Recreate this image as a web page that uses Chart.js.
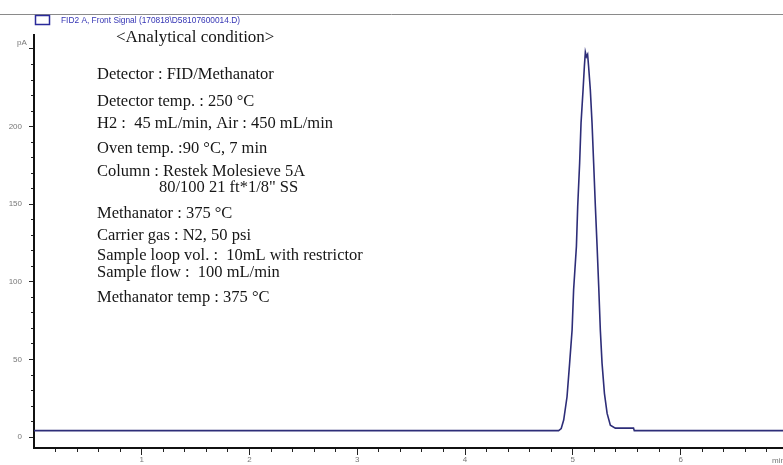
<!DOCTYPE html>
<html><head><meta charset="utf-8">
<script src="https://cdn.jsdelivr.net/npm/chart.js@4/dist/chart.umd.min.js"></script>
<style>html,body{margin:0;padding:0;background:#fff;overflow:hidden}canvas{display:block}</style>
</head><body>
<canvas id="c" width="783" height="465"></canvas>
<script>
// ---- data ----
const timesMin = [0, 4.868, 4.892, 4.915, 4.946, 4.970, 4.993, 5.007, 5.033, 5.045, 5.063, 5.076, 5.095, 5.107, 5.116, 5.126, 5.137, 5.146, 5.162, 5.178, 5.193, 5.209, 5.225, 5.240, 5.255, 5.271, 5.293, 5.318, 5.348, 5.394, 5.563, 5.570, 6.95];
const signalPA = [4.2, 4.2, 5.5, 11, 26, 47.5, 69, 94.8, 122.8, 148.6, 176.6, 202.4, 223.9, 238.9, 248, 245, 246.5, 238.9, 223.9, 202.4, 176.6, 148.6, 122.8, 97, 69, 47.5, 28.2, 15.3, 7.7, 5.8, 5.8, 4.2, 4.2];

const xMajorTicks = [1, 2, 3, 4, 5, 6];
const xTickLabels = ['1', '2', '3', '4', '5', '6'];
const xMinorTicks = [0.2, 0.4, 0.6, 0.8, 1.2, 1.4, 1.6, 1.8, 2.2, 2.4, 2.6, 2.8, 3.2, 3.4, 3.6, 3.8, 4.2, 4.4, 4.6, 4.8, 5.2, 5.4, 5.6, 5.8, 6.2, 6.4, 6.6, 6.8];
const yMajorTicks = [0, 50, 100, 150, 200, 250];
const yTickLabels = ['0', '50', '100', '150', '200', ''];
const yMinorTicks = [10, 20, 30, 40, 60, 70, 80, 90, 110, 120, 130, 140, 160, 170, 180, 190, 210, 220, 230, 240];

const seriesLabel = 'FID2 A, Front Signal (170818\\D58107600014.D)';
const yUnit = 'pA';
const xUnit = 'min';
const noteTitle = '<Analytical condition>';
const noteLines = [
  'Detector : FID/Methanator',
  'Detector temp. : 250 \u00B0C',
  'H2 :  45 mL/min, Air : 450 mL/min',
  'Oven temp. :90 \u00B0C, 7 min',
  'Column : Restek Molesieve 5A',
  '80/100 21 ft*1/8" SS',
  'Methanator : 375 \u00B0C',
  'Carrier gas : N2, 50 psi',
  'Sample loop vol. :  10mL with restrictor',
  'Sample flow :  100 mL/min',
  'Methanator temp : 375 \u00B0C'
];

const X_MIN = 0, X_MAX = 6.95, Y_MIN = -7, Y_MAX = 259;
const LINE_COLOR = '#2d2d78';
const TICK_FONT = {family: "'Liberation Sans Narrow', 'Liberation Sans', Arial, sans-serif", size: 8};

const pts = timesMin.map((t, i) => ({x: t, y: signalPA[i]}));

const notesPlugin = {
  id: 'notes',
  afterDraw(chart) {
    const ctx = chart.ctx;
    ctx.save();
    // top rule
    ctx.strokeStyle = '#8a8a8a';
    ctx.lineWidth = 1;
    ctx.beginPath(); ctx.moveTo(0, 14.5); ctx.lineTo(783, 14.5); ctx.stroke();
    // legend
    ctx.strokeStyle = '#2a2a9a';
    ctx.lineWidth = 1.5;
    ctx.strokeRect(35.5, 15.5, 14, 9);
    ctx.fillStyle = '#3434b4';
    ctx.font = "8.5px 'Liberation Sans', Arial, sans-serif";
    ctx.textBaseline = 'middle';
    ctx.textAlign = 'left';
    ctx.fillText(seriesLabel, 61, 20.5, 179);
    // units
    ctx.fillStyle = '#777';
    ctx.font = "8px 'Liberation Sans Narrow', 'Liberation Sans', sans-serif";
    ctx.textAlign = 'center';
    ctx.fillText(yUnit, 22, 43);
    ctx.textAlign = 'left';
    ctx.fillText(xUnit, 772, 461);
    // analytical conditions
    ctx.fillStyle = '#161616';
    ctx.font = "17px 'Liberation Serif', 'Times New Roman', serif";
    ctx.textAlign = 'left';
    ctx.fillText(noteTitle, 116, 38);
    ctx.font = "16.5px 'Liberation Serif', 'Times New Roman', serif";
    const ys = [75, 102, 124, 149, 172, 188, 214, 236, 256, 273, 298];
    noteLines.forEach((s, i) => {
      ctx.fillText(s, i === 5 ? 159 : 97, ys[i]);
    });
    ctx.restore();
  }
};

new Chart(document.getElementById('c'), {
  type: 'line',
  data: {
    datasets: [{
      label: seriesLabel,
      data: pts,
      borderColor: LINE_COLOR,
      backgroundColor: '#fff',
      borderWidth: 1.6,
      pointRadius: 0,
      fill: false,
      tension: 0,
      xAxisID: 'x',
      yAxisID: 'y'
    }]
  },
  options: {
    responsive: false,
    animation: false,
    devicePixelRatio: 1,
    layout: {padding: {top: 35, left: 0, right: 0, bottom: 0}},
    plugins: {legend: {display: false}, tooltip: {enabled: false}, title: {display: false}},
    scales: {
      x: {
        type: 'linear', position: 'bottom', min: X_MIN, max: X_MAX,
        afterBuildTicks: s => { s.ticks = xMajorTicks.map(v => ({value: v})); },
        afterFit: s => { s.height = 17; },
        ticks: {
          autoSkip: false, maxRotation: 0, padding: 0, color: '#777', font: TICK_FONT,
          callback: (v) => { const i = xMajorTicks.indexOf(v); return i >= 0 ? xTickLabels[i] : ''; }
        },
        grid: {drawOnChartArea: false, tickLength: 7, color: '#222', tickWidth: 1},
        border: {display: true, color: '#111', width: 2}
      },
      x2: {
        type: 'linear', position: {y: Y_MIN}, min: X_MIN, max: X_MAX,
        afterBuildTicks: s => { s.ticks = xMinorTicks.map(v => ({value: v})); },
        ticks: {display: false},
        grid: {drawOnChartArea: false, tickLength: 4, color: '#222', tickWidth: 1},
        border: {display: false}
      },
      y: {
        type: 'linear', position: 'left', min: Y_MIN, max: Y_MAX,
        afterBuildTicks: s => { s.ticks = yMajorTicks.map(v => ({value: v})); },
        afterFit: s => { s.width = 34; },
        ticks: {
          autoSkip: false, padding: 7, color: '#777', font: TICK_FONT,
          callback: (v) => { const i = yMajorTicks.indexOf(v); return i >= 0 ? yTickLabels[i] : ''; }
        },
        grid: {drawOnChartArea: false, tickLength: 5, color: '#222', tickWidth: 1},
        border: {display: true, color: '#111', width: 2}
      },
      y2: {
        type: 'linear', position: {x: X_MIN}, min: Y_MIN, max: Y_MAX,
        afterBuildTicks: s => { s.ticks = yMinorTicks.map(v => ({value: v})); },
        ticks: {display: false},
        grid: {drawOnChartArea: false, tickLength: 3, color: '#222', tickWidth: 1},
        border: {display: false}
      }
    }
  },
  plugins: [notesPlugin]
});
</script>
</body></html>
